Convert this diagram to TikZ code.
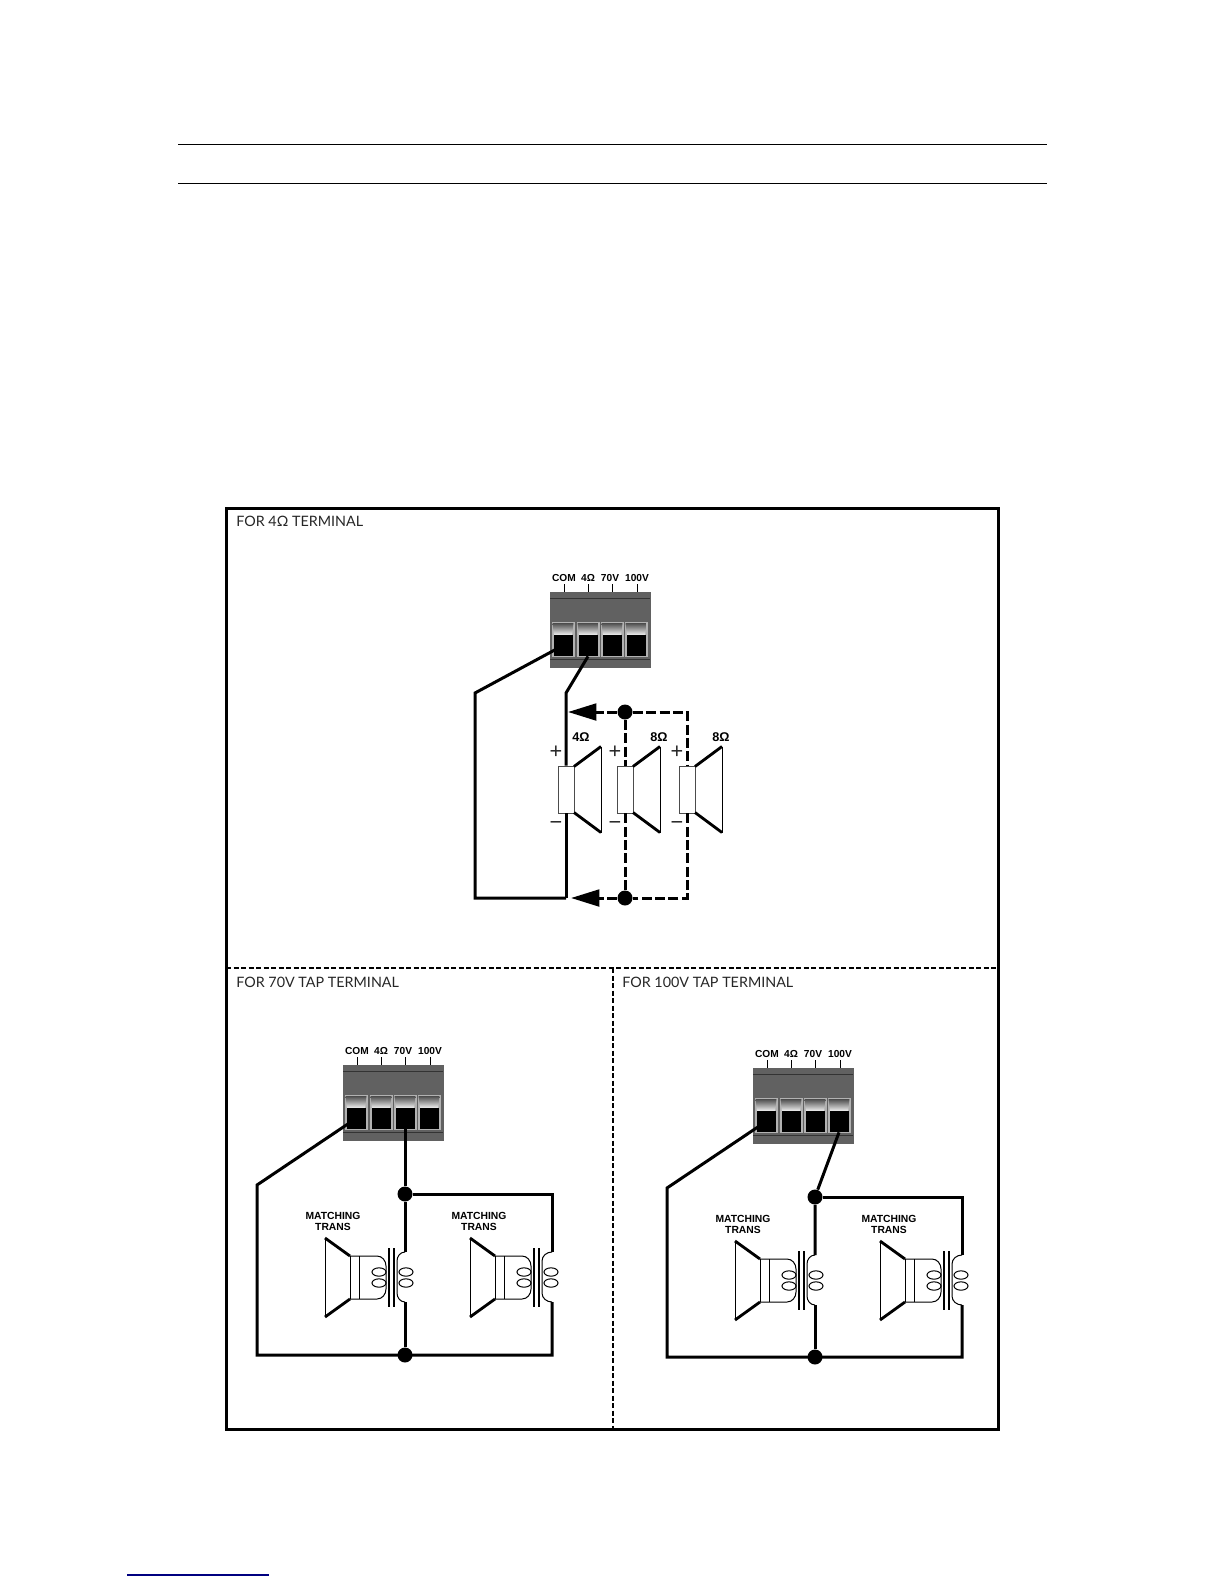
\documentclass[tikz,border=0pt]{standalone}
\usepackage{fontspec}
\setmainfont{Lato}
\newfontfamily\labelfont{Liberation Sans}
\usetikzlibrary{arrows.meta}

% terminal block: name, x, y
\newcommand{\termblock}[3]{
\begin{scope}[shift={(#2,#3)}]
\node[termbody] (#1) at (50,37.5) {};
\draw[termedge] (0,6) -- (100,6);
\draw[termedge] (0,67) -- (100,67);
\foreach \wx/\wn/\wt/\px/\lx in {13/com/COM/14/14, 38/four/4Ω/38/38, 62/sev/70V/62/60, 86/hun/100V/87/87} {
	\fill[gray!60] (\wx-11.5,30) rectangle (\wx+11.5,65);
	\shade[top color=black!70, bottom color=white] (\wx-10.5,31) -- (\wx+10.5,31) -- (\wx+9,44) -- (\wx-9,44) -- cycle;
	\node[termwin] (#1-\wn) at (\wx,53.5) {};
	\draw[pin] (\px,-8) -- (\px,0);
	\node[termtext] (#1-\wn-text) at (\lx,-14) {\wt};
}
\end{scope}
}

% speaker seen from the side, facing right: name, x, ohm label, label offset
\newcommand{\hornspeaker}[4]{
\begin{scope}[shift={(#2,789.5)}]
\node[spkbox] (#1) at (0,0) {};
\draw[horn] (8,-23) -- (35,-43);
\draw[horn] (8,23) -- (35,43);
\draw[thin] (35,-43) -- (35,43);
\node[sign] (#1-plus) at (-10,-37) {+};
\node[sign] (#1-minus) at (-10,36.5) {−};
\node[termtext, font=\labelfont\bfseries\fontsize{7.6}{8}\selectfont] (#1-ohm) at (#4,-52.5) {#3};
\end{scope}
}

% speaker with matching transformer: name, x, y, end of coil
\newcommand{\matchspeaker}[4]{
\begin{scope}[shift={(#2,#3)}]
\coordinate (#1-top) at (#4,0);
\coordinate (#1-bot) at (#4,50);
\draw[horn] (-55,4) -- (-80,-14);
\draw[horn] (-55,47) -- (-80,65);
\draw[thin] (-80,-14) -- (-80,65);
\draw[thin] (-55,4) -- (-55,47);
\draw[thin] (-46,4) -- (-46,47);
\draw[thin] (-55,4) -- (-28,4) to[out=0,in=90] (-19,14) -- (-19,37) to[out=-90,in=0] (-28,47) -- (-55,47);
\draw[thin] (#1-top) to[out=180,in=90] (-8,9) -- (-8,41) to[out=-90,in=180] (#1-bot);
\draw[corebar] (-16,-4) -- (-16,55);
\draw[corebar] (-11,-4) -- (-11,55);
\foreach \ly in {20,31} {
	\draw[thin] (-26,\ly) ellipse (4.2pt and 2.5pt);
	\draw[thin] (1,\ly) ellipse (4.2pt and 2.5pt);
}
\end{scope}
}

\begin{document}
\begin{tikzpicture}[
x=0.6pt,
y=-0.6pt,
wire/.style={
	draw, line width=1.8pt, line join=miter
},
dashwire/.style={
	draw, line width=1.8pt, dash pattern=on 6pt off 2pt
},
tipped/.style={
	dash pattern=on 6pt off 2pt, -{Triangle[length=17pt, width=10pt]}
},
joint/.style={
	circle, fill=black, inner sep=0pt, minimum size=9pt
},
termbody/.style={
	rectangle, fill=black!62, draw=black!62, inner sep=0pt, minimum width=60pt, minimum height=45pt
},
termedge/.style={
	draw=black!80, line width=0.6pt
},
termwin/.style={
	rectangle, fill=black, inner sep=0pt, minimum width=11.4pt, minimum height=12.6pt
},
termtext/.style={
	font=\labelfont\bfseries\fontsize{6.1}{7}\selectfont, inner sep=0pt
},
pin/.style={
	draw, line width=0.5pt
},
spkbox/.style={
	rectangle, draw=black!70, fill=white, line width=0.5pt, inner sep=0pt, minimum width=9.6pt, minimum height=28.2pt
},
horn/.style={
	draw, line width=1.7pt
},
corebar/.style={
	draw, line width=1pt
},
thin/.style={
	draw, line width=0.6pt
},
sign/.style={
	font=\labelfont\fontsize{13}{13}\selectfont, inner sep=0pt, text=black!85
},
title/.style={
	anchor=west, font=\fontsize{8.6}{10}\selectfont, inner sep=0pt, text=black!85
},
trans/.style={
	font=\labelfont\bfseries\fontsize{6.2}{6.6}\selectfont, inner sep=0pt, align=center
},
frameline/.style={
	draw, line width=1.8pt
},
panelline/.style={
	draw, line width=0.9pt, dash pattern=on 3pt off 1.5pt
},
rule/.style={
	draw, line width=0.6pt
}
]
\useasboundingbox (0,0) rectangle (1224,1584);

% Page
\draw[rule] (178,144.5) -- (1047,144.5);
\draw[rule] (178,183) -- (1047,183);
\draw[draw=blue!50!black, line width=0.9pt] (127,1575) -- (269,1575);

% Frame
\coordinate (midL) at (226,968);
\coordinate (midR) at (998,968);
\coordinate (midT) at (613,968);
\coordinate (midB) at (613,1429);
\draw[panelline] (midL) -- (midR);
\draw[panelline] (midT) -- (midB);
\draw[frameline] (226,508) rectangle (998,1429);

% Titles
\node[title] (titleA) at (236,521) {FOR 4Ω TERMINAL};
\node[title] (titleB) at (236,982) {FOR 70V TAP TERMINAL};
\node[title] (titleC) at (622,982) {FOR 100V TAP TERMINAL};

% Nodes
\termblock{blockA}{550}{592}
\termblock{blockB}{343}{1065}
\termblock{blockC}{753}{1068}

\coordinate (cornA) at (475,693);
\coordinate (baseA) at (475,898);
\coordinate (bendA) at (566,693);
\coordinate (feedA) at (566,898);
\coordinate (tipAtop) at (568,712);
\coordinate (tipAbot) at (571,898);
\coordinate (cornAtop) at (687,712);
\coordinate (cornAbot) at (687,898);
\node[joint] (dotAtop) at (625,712) {};
\node[joint] (dotAbot) at (625,898) {};

\coordinate (cornB) at (257,1185);
\coordinate (baseB) at (257,1355);
\coordinate (farBbot) at (552,1355);
\coordinate (farBtop) at (552,1194);
\node[joint] (dotBtop) at (405,1194) {};
\node[joint] (dotBbot) at (405,1355) {};

\coordinate (cornC) at (667,1188);
\coordinate (baseC) at (667,1357);
\coordinate (farCbot) at (962,1357);
\coordinate (farCtop) at (962,1197);
\node[joint] (dotCtop) at (815,1197) {};
\node[joint] (dotCbot) at (815,1357) {};

\hornspeaker{spkA}{566}{4Ω}{15}
\hornspeaker{spkB}{625}{8Ω}{34}
\hornspeaker{spkC}{687}{8Ω}{34}

\matchspeaker{matchB}{405}{1252}{0}
\matchspeaker{matchBB}{550}{1252}{2}
\matchspeaker{matchC}{815}{1255}{0}
\matchspeaker{matchCC}{960}{1255}{2}

\node[trans] (transB) at (333,1221) {MATCHING\\TRANS};
\node[trans] (transBB) at (479,1221) {MATCHING\\TRANS};
\node[trans] (transC) at (743,1224) {MATCHING\\TRANS};
\node[trans] (transCC) at (889,1224) {MATCHING\\TRANS};

% Lines
\draw[wire] (blockA-com.center) -- (cornA) -- (baseA) -- (feedA);
\draw[wire] (blockA-four.south) -- (bendA) -- (spkA.north);
\draw[wire] (spkA.south) -- (feedA);
\draw[dashwire, tipped] (dotAtop) -- (tipAtop);
\draw[dashwire, tipped] (dotAbot) -- (tipAbot);
\draw[dashwire] (dotAtop) -- (cornAtop) -- (spkC.north);
\draw[dashwire] (dotAtop) -- (spkB.north);
\draw[dashwire] (spkB.south) -- (dotAbot);
\draw[dashwire] (spkC.south) -- (cornAbot) -- (dotAbot);

\draw[wire] (blockB-com.center) -- (cornB) -- (baseB) -- (farBbot) -- (matchBB-bot);
\draw[wire] (matchBB-top) -- (farBtop) -- (dotBtop);
\draw[wire] (blockB-sev.center) -- (dotBtop) -- (matchB-top);
\draw[wire] (matchB-bot) -- (dotBbot);

\draw[wire] (blockC-com.center) -- (cornC) -- (baseC) -- (farCbot) -- (matchCC-bot);
\draw[wire] (matchCC-top) -- (farCtop) -- (dotCtop);
\draw[wire] (blockC-hun.south) -- (dotCtop) -- (matchC-top);
\draw[wire] (matchC-bot) -- (dotCbot);

\end{tikzpicture}
\end{document}
